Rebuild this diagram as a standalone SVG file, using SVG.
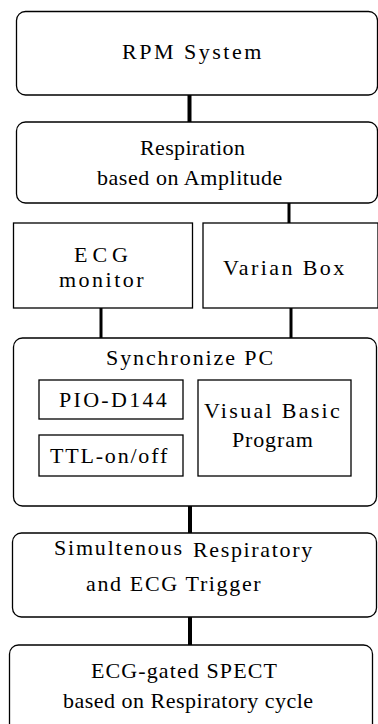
<svg xmlns="http://www.w3.org/2000/svg" width="378" height="724" viewBox="0 0 378 724">
<style>
.box{fill:#fff;stroke:#000;stroke-width:1.3}
.lbl{font-family:'Liberation Serif','Times New Roman',serif !important;font-size:22px;fill:#000}
.c{stroke:#000;fill:none}
</style>
<rect width="378" height="724" fill="#fff"/>
<g id="connectors">
<line class="c" x1="189.5" y1="95" x2="189.5" y2="122" stroke-width="4"/>
<line class="c" x1="289" y1="203" x2="289" y2="223" stroke-width="3"/>
<line class="c" x1="101" y1="308" x2="101" y2="338" stroke-width="3"/>
<line class="c" x1="291" y1="308" x2="291" y2="338" stroke-width="3"/>
<line class="c" x1="190" y1="506" x2="190" y2="533" stroke-width="4"/>
<line class="c" x1="190" y1="617" x2="190" y2="645" stroke-width="4"/>
</g>
<g id="rpm">
<rect class="box" x="16.5" y="11.5" width="361" height="83.5" rx="9"/>
<text class="lbl" style="font-family:'Liberation Serif',serif" x="122" y="59" letter-spacing="2.5">RPM System</text>
</g>
<g id="respiration">
<rect class="box" x="16.5" y="122" width="361" height="81" rx="9"/>
<text class="lbl" style="font-family:'Liberation Serif',serif" x="140" y="155" letter-spacing="0.35">Respiration</text>
<text class="lbl" style="font-family:'Liberation Serif',serif" x="97" y="185" letter-spacing="0.55">based on Amplitude</text>
</g>
<g id="ecg-monitor">
<rect class="box" x="13.5" y="223" width="179" height="85"/>
<text class="lbl" style="font-family:'Liberation Serif',serif" x="74" y="262" letter-spacing="5">ECG</text>
<text class="lbl" style="font-family:'Liberation Serif',serif" x="59" y="287" letter-spacing="2.5">monitor</text>
</g>
<g id="varian-box">
<rect class="box" x="203" y="223" width="175" height="85"/>
<text class="lbl" style="font-family:'Liberation Serif',serif" x="223" y="275" letter-spacing="2.4">Varian Box</text>
</g>
<g id="sync-pc">
<rect class="box" x="13.5" y="338" width="363" height="168" rx="9"/>
<text class="lbl" style="font-family:'Liberation Serif',serif" x="106" y="365" letter-spacing="1.9">Synchronize PC</text>
</g>
<g id="pio">
<rect class="box" x="39" y="380" width="144" height="39"/>
<text class="lbl" style="font-family:'Liberation Serif',serif" x="59" y="407" letter-spacing="2.3">PIO-D144</text>
</g>
<g id="ttl">
<rect class="box" x="39" y="435" width="144" height="41"/>
<text class="lbl" style="font-family:'Liberation Serif',serif" x="50" y="463" letter-spacing="1.8">TTL-on/off</text>
</g>
<g id="vb">
<rect class="box" x="198" y="380" width="153" height="96"/>
<text class="lbl" style="font-family:'Liberation Serif',serif" x="204" y="418" letter-spacing="2.3">Visual Basic</text>
<text class="lbl" style="font-family:'Liberation Serif',serif" x="232" y="447" letter-spacing="0.85">Program</text>
</g>
<g id="trigger">
<rect class="box" x="12.5" y="533" width="364" height="84" rx="9"/>
<text class="lbl" style="font-family:'Liberation Serif',serif" x="54" y="555" letter-spacing="1.8">Simultenous</text>
<text class="lbl" style="font-family:'Liberation Serif',serif" x="193" y="557" letter-spacing="1.65">Respiratory</text>
<text class="lbl" style="font-family:'Liberation Serif',serif" x="86" y="591" letter-spacing="1.65">and ECG Trigger</text>
</g>
<g id="spect">
<rect class="box" x="9.5" y="645" width="363" height="92" rx="9"/>
<text class="lbl" style="font-family:'Liberation Serif',serif" x="91" y="678" letter-spacing="1.1">ECG-gated SPECT</text>
<text class="lbl" style="font-family:'Liberation Serif',serif" x="63" y="708" letter-spacing="0.5">based on Respiratory cycle</text>
</g>
</svg>
